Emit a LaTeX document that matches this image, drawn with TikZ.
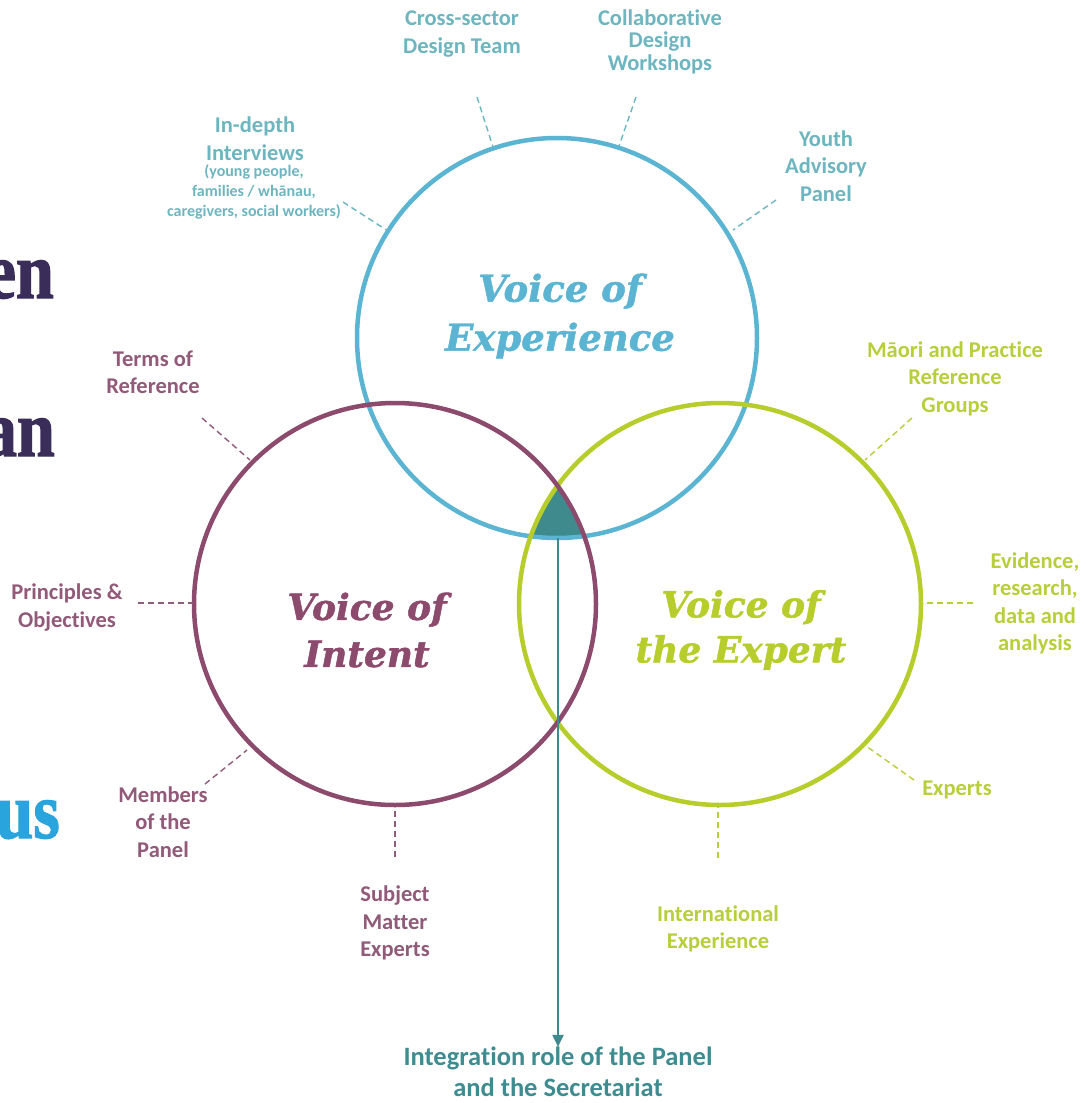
\documentclass[tikz,border=0pt]{standalone}
\usepackage{fontspec}
\setmainfont[RawFeature={-liga;-clig;-calt;-dlig;-rlig}]{Carlito}
\newfontfamily\titlefont[BoldItalicFeatures={FakeBold=1.3}]{DejaVu Serif}
\newfontfamily\bigserif[FakeStretch=0.85,FakeBold=1.5]{Liberation Serif}
\usetikzlibrary{arrows.meta}
\definecolor{expblue}{HTML}{5AB4D2}
\definecolor{exptext}{HTML}{6DB5BF}
\definecolor{intpurple}{HTML}{8C4B6D}
\definecolor{inttext}{HTML}{915A78}
\definecolor{expgreen}{HTML}{B6CD2B}
\definecolor{greentext}{HTML}{B8CE3A}
\definecolor{tealc}{HTML}{3E8A8C}
\definecolor{integtext}{HTML}{3E8C90}
\definecolor{darkpurple}{HTML}{3B2D5A}
\definecolor{bigblue}{HTML}{2AA4DD}
\begin{document}
\begin{tikzpicture}[x=1pt,y=-1pt,
  lbl/.style={align=center,inner sep=0pt,font=\bfseries\fontsize{22.5}{27.5}\selectfont},
  sublbl/.style={align=center,inner sep=0pt,font=\bfseries\fontsize{16}{20}\selectfont},
  title/.style={align=center,inner sep=0pt,font=\titlefont\bfseries\itshape\fontsize{36}{47}\selectfont},
  big/.style={inner sep=0pt,anchor=base east,font=\bigserif\bfseries\fontsize{80}{82}\selectfont},
  dashc/.style={dash pattern=on 6pt off 4pt,line width=1.4pt},
  ring/.style={line width=4.5pt}]
\useasboundingbox (0,0) rectangle (1087,1103);
\clip (0,0) rectangle (1087,1103);
\fill[white] (0,0) rectangle (1087,1103);

% cropped fragments at left edge
\node[big,text=darkpurple] (fragA) at (54,298) {en};
\node[big,text=darkpurple] (fragB) at (55,456) {an};
\node[big,text=bigblue] (fragC) at (60,838) {us};

% centre region
\begin{scope}
  \clip (395,604) circle (201);
  \clip (720,604) circle (201);
  \fill[tealc] (557,338) circle (200);
\end{scope}

% circles
\node[ring,draw=expblue,circle,minimum size=400pt,inner sep=0pt] (exp) at (557,338) {};
\node[ring,draw=expgreen,circle,minimum size=402pt,inner sep=0pt] (expert) at (720,604) {};
\node[ring,draw=intpurple,circle,minimum size=402pt,inner sep=0pt] (intent) at (395,604) {};

% titles
\node[title,text=expblue,font=\titlefont\bfseries\itshape\fontsize{37}{49}\selectfont] (texp) at (560,316) {Voice of\\Experience};
\node[title,text=intpurple] (tint) at (367,630) {Voice of\\Intent};
\node[title,text=expgreen,font=\titlefont\bfseries\itshape\fontsize{36}{45}\selectfont] (texpert) at (741,630) {Voice of\\the Expert};

% labels: experience
\node[lbl,text=exptext] (cross) at (462,34) {Cross-sector\\Design Team};
\node[lbl,text=exptext,font=\bfseries\fontsize{22.5}{22.5}\selectfont] (collab) at (660,41.5) {Collaborative\\Design\\Workshops};
\node[lbl,text=exptext] (youth) at (826,166) {Youth\\Advisory\\Panel};
\node[lbl,text=exptext] (indepth) at (255,138.5) {In-depth\\Interviews};
\node[sublbl,text=exptext] (indepthsub) at (254,192) {(young people,\\families / wh\=anau,\\caregivers, social workers)};

% labels: intent
\node[lbl,text=inttext] (terms) at (153,372.5) {Terms of\\Reference};
\node[lbl,text=inttext] (princ) at (67,607.5) {Principles \&\\Objectives};
\node[lbl,text=inttext] (members) at (163,822) {Members\\of the\\Panel};
\node[lbl,text=inttext] (subject) at (395,923) {Subject\\Matter\\Experts};

% labels: expert
\node[lbl,text=greentext] (maori) at (955,378.5) {M\=aori and Practice\\Reference\\Groups};
\node[lbl,text=greentext] (evid) at (1035,603.5) {Evidence,\\research,\\data and\\analysis};
\node[lbl,text=greentext] (experts) at (957,790) {Experts};
\node[lbl,text=greentext] (intl) at (718,929) {International\\Experience};

% integration
\node[lbl,text=integtext,font=\bfseries\fontsize{26.5}{31}\selectfont] (integ) at (558,1072) {Integration role of the Panel\\and the Secretariat};

% dashed connectors
\coordinate (cA1) at (477,97);  \coordinate (cA2) at (493,147);
\coordinate (cB1) at (636,97);  \coordinate (cB2) at (619,146);
\coordinate (cC1) at (776,200); \coordinate (cC2) at (733,230);
\coordinate (cD1) at (343,202); \coordinate (cD2) at (388,231);
\coordinate (cE1) at (202,418); \coordinate (cE2) at (250,460);
\coordinate (cF1) at (138,603); \coordinate (cF2) at (193,603);
\coordinate (cG1) at (205,784); \coordinate (cG2) at (247,750);
\coordinate (cH1) at (395,857); \coordinate (cH2) at (395,807);
\coordinate (cI1) at (912,418); \coordinate (cI2) at (865,460);
\coordinate (cJ1) at (973,603); \coordinate (cJ2) at (922,603);
\coordinate (cK1) at (914,780); \coordinate (cK2) at (866,746);
\coordinate (cL1) at (718,858); \coordinate (cL2) at (718,807);
\draw[dashc,draw=exptext] (cA1) -- (cA2);
\draw[dashc,draw=exptext] (cB1) -- (cB2);
\draw[dashc,draw=exptext] (cC1) -- (cC2);
\draw[dashc,draw=exptext] (cD1) -- (cD2);
\draw[dashc,draw=inttext] (cE1) -- (cE2);
\draw[dashc,draw=inttext] (cF1) -- (cF2);
\draw[dashc,draw=inttext] (cG1) -- (cG2);
\draw[dashc,draw=inttext] (cH1) -- (cH2);
\draw[dashc,draw=greentext] (cI1) -- (cI2);
\draw[dashc,draw=greentext] (cJ1) -- (cJ2);
\draw[dashc,draw=greentext] (cK1) -- (cK2);
\draw[dashc,draw=greentext] (cL1) -- (cL2);

% integration arrow
\coordinate (arrtop) at (558,538);
\draw[tealc,line width=2pt,-{Triangle[width=11pt,length=12pt]}] (arrtop) -- (integ.north);
\end{tikzpicture}
\end{document}
